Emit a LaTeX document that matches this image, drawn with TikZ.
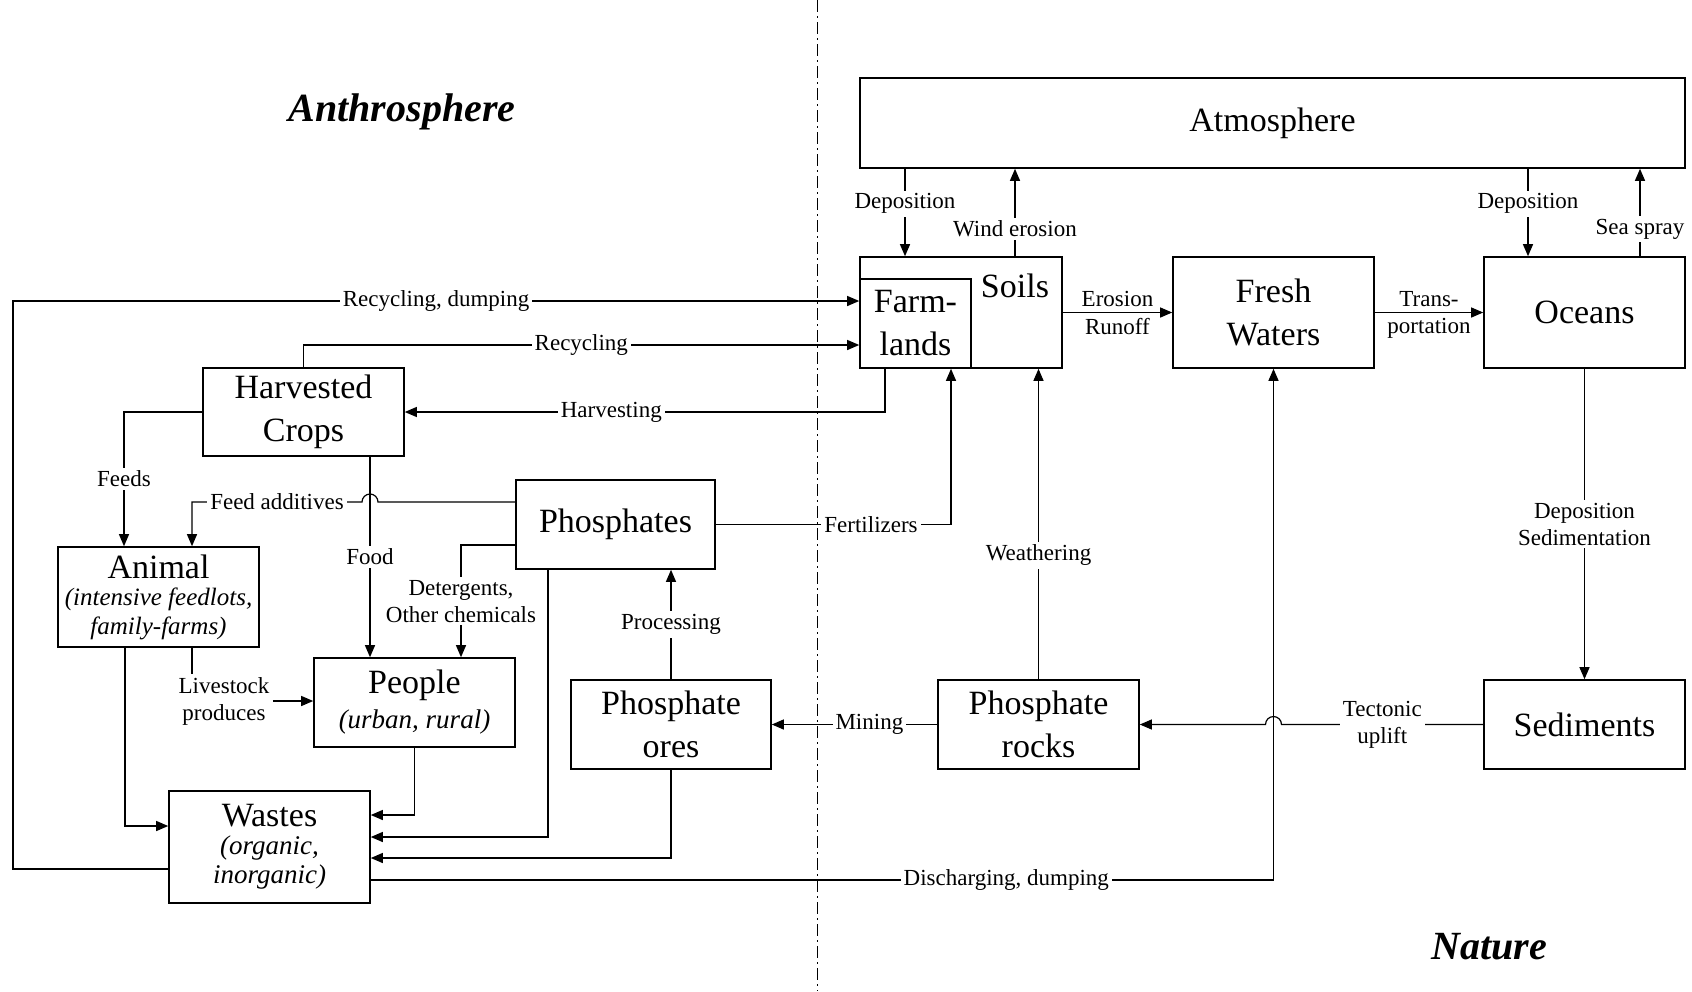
\documentclass[tikz,border=0pt]{standalone}
\usepackage{fontspec}
\setmainfont{Liberation Serif}
\usetikzlibrary{arrows.meta}
\newcommand{\bigtxt}{\fontsize{17}{21.5}\selectfont}
\newcommand{\lbltxt}{\fontsize{11.5}{13.5}\selectfont}
\newcommand{\subtxt}{\fontsize{13.5}{14.5}\selectfont\itshape}
\newcommand{\titletxt}{\fontsize{20}{24}\selectfont\bfseries\itshape}
\tikzset{
  >={Triangle[length=6pt,width=5pt]},
}
\tikzstyle{every node}=[font=\lbltxt]
\tikzstyle{box}=[draw,line width=.8pt,minimum width=100.5pt,minimum height=44.5pt,inner sep=0pt,align=center,font=\bigtxt]
\tikzstyle{subbox}=[box,font=\subtxt]
\tikzstyle{lbl}=[fill=white,inner sep=1.5pt,align=center]
\tikzstyle{side}=[inner sep=2.5pt]
\tikzstyle{flow}=[line width=.6pt,->]

\begin{document}
\begin{tikzpicture}[x=.5pt,y=-.5pt]
  \useasboundingbox (0,0) rectangle (1692,991);
  % divider between the two spheres
  \draw[line width=.5pt,dash pattern=on 6pt off 2pt on 1pt off 2pt] (817,0) -- (817,991);
  \node[font=\titletxt] (anthro) at (402,112) {Anthrosphere};
  \node[font=\titletxt] (nature) at (1489,947) {Nature};

  % nature
  \node[box,minimum width=412.5pt,minimum height=45pt] (atm) at (1272.5,123) {Atmosphere};
  \node[box,minimum width=101pt,minimum height=55.5pt] (soils) at (961,312.5) {};
  \node[font=\bigtxt] (soilstxt) at (1015,286) {Soils};
  \node[box,minimum width=55.5pt] (farm) at (915.5,323.5) {Farm-\\lands};
  \node[box,minimum height=55.5pt] (fresh) at (1273.5,312.5) {Fresh\\Waters};
  \node[box,minimum height=55.5pt] (oceans) at (1584.5,312.5) {Oceans};
  \node[box] (sed) at (1584.5,724.5) {Sediments};
  \node[box] (rocks) at (1038.5,724.5) {Phosphate\\rocks};

  % anthrosphere
  \node[box,minimum width=100pt] (ores) at (671,724.5) {Phosphate\\ores};
  \node[box,minimum width=99.5pt] (phos) at (615.5,524.5) {Phosphates};
  \node[box,minimum height=44pt] (crops) at (303.5,412) {Harvested\\Crops};
  \node[subbox,font=\fontsize{12.5}{14.5}\selectfont\itshape,minimum height=50pt] (animal) at (158.5,597)
    {{\bigtxt\upshape Animal}\\[-1pt](intensive feedlots,\\family-farms)};
  \node[subbox] (people) at (414.5,702.5) {{\bigtxt\upshape People}\\[3pt](urban, rural)};
  \node[subbox,minimum height=56pt] (wastes) at (269.5,847) {{\bigtxt\upshape Wastes}\\[-.5pt](organic,\\inorganic)};
  \node[lbl] (stock) at (224,701) {Livestock\\produces};

  % tracks
  \coordinate (depl) at (905,0);
  \coordinate (wind) at (1015,0);
  \coordinate (depr) at (1528,0);
  \coordinate (spray) at (1640,0);
  \coordinate (loop) at (13,301);
  \coordinate (wrd) at (0,869);
  \coordinate (rec) at (0,345);
  \coordinate (harv) at (885,0);
  \coordinate (fert) at (951,0);
  \coordinate (feeds) at (124,0);
  \coordinate (hopl) at (378,502);
  \coordinate (add) at (192,502);
  \coordinate (food) at (370,0);
  \coordinate (det) at (461,545);
  \coordinate (anw) at (125,826);
  \coordinate (pw) at (0,815);
  \coordinate (phw) at (548,837);
  \coordinate (orw) at (0,858);
  \coordinate (dis) at (0,880);
  \coordinate (hopr) at (1281.5,724.5);

  % atmosphere exchanges
  \draw[flow] (atm.south -| depl) -- node[lbl,pos=.4]{Deposition} (soils.north -| depl);
  \draw[flow] (soils.north -| wind) -- node[lbl,pos=.31]{Wind erosion} (atm.south -| wind);
  \draw[flow] (atm.south -| depr) -- node[lbl,pos=.4]{Deposition} (oceans.north -| depr);
  \draw[flow] (oceans.north -| spray) -- node[lbl,pos=.31]{Sea spray} (atm.south -| spray);
  \draw[flow] (soils.east) -- node[side,above]{Erosion} node[side,below]{Runoff} (fresh.west);
  \draw[flow] (fresh.east) -- node[side,above]{Trans-} node[side,below]{portation} (oceans.west);
  \draw[flow] (oceans.south) -- node[lbl]{Deposition\\Sedimentation} (sed.north);
  \draw[flow] (sed.west) -- node[lbl]{Tectonic\\uplift} (hopr)
    arc[start angle=0,end angle=-180,radius=8] -- (rocks.east);
  \draw[flow] (rocks.north) -- node[lbl,pos=.4]{Weathering} (soils.south -| rocks.north);
  \draw[flow] (rocks.west) -- node[lbl,pos=.41]{Mining} (ores.east);
  \draw[flow] (ores.north) -- node[lbl]{Processing} (phos.south -| ores.north);

  % fluxes inside the anthrosphere
  \draw[flow] (phos.east) -| node[lbl,pos=.33]{Fertilizers} (farm.south -| fert);
  \draw[flow] (farm.south -| harv) |- node[lbl,pos=.785]{Harvesting} (crops.east);
  \draw[flow] (crops.north) |- node[lbl,pos=.75]{Recycling} (farm.west |- rec);
  \draw[flow] (wastes.west |- wrd) -| (loop) -- node[lbl]{Recycling, dumping} (farm.west |- loop);
  \draw[flow] (crops.west) -| node[lbl,pos=.75]{Feeds} (animal.north -| feeds);
  \draw[flow] (phos.west |- hopl) -- (hopl) arc[start angle=0,end angle=-180,radius=8]
    -- node[lbl]{Feed additives} (add) -- (animal.north -| add);
  \draw[flow] (crops.south -| food) -- node[lbl]{Food} (people.north -| food);
  \draw[flow] (phos.west |- det) -| node[lbl,pos=.75]{Detergents,\\Other chemicals} (people.north -| det);
  \draw[line width=.6pt] (animal.south -| add) -- (stock.north -| add);
  \draw[flow] (stock.east) -- (people.west |- stock.east);
  \draw[flow] (animal.south -| anw) |- (wastes.west |- anw);
  \draw[flow] (people.south) |- (wastes.east |- pw);
  \draw[flow] (phos.south -| phw) |- (wastes.east |- phw);
  \draw[flow] (ores.south) |- (wastes.east |- orw);
  \draw[flow] (wastes.east |- dis) -| node[lbl,pos=.352]{Discharging, dumping} (fresh.south);
\end{tikzpicture}
\end{document}
